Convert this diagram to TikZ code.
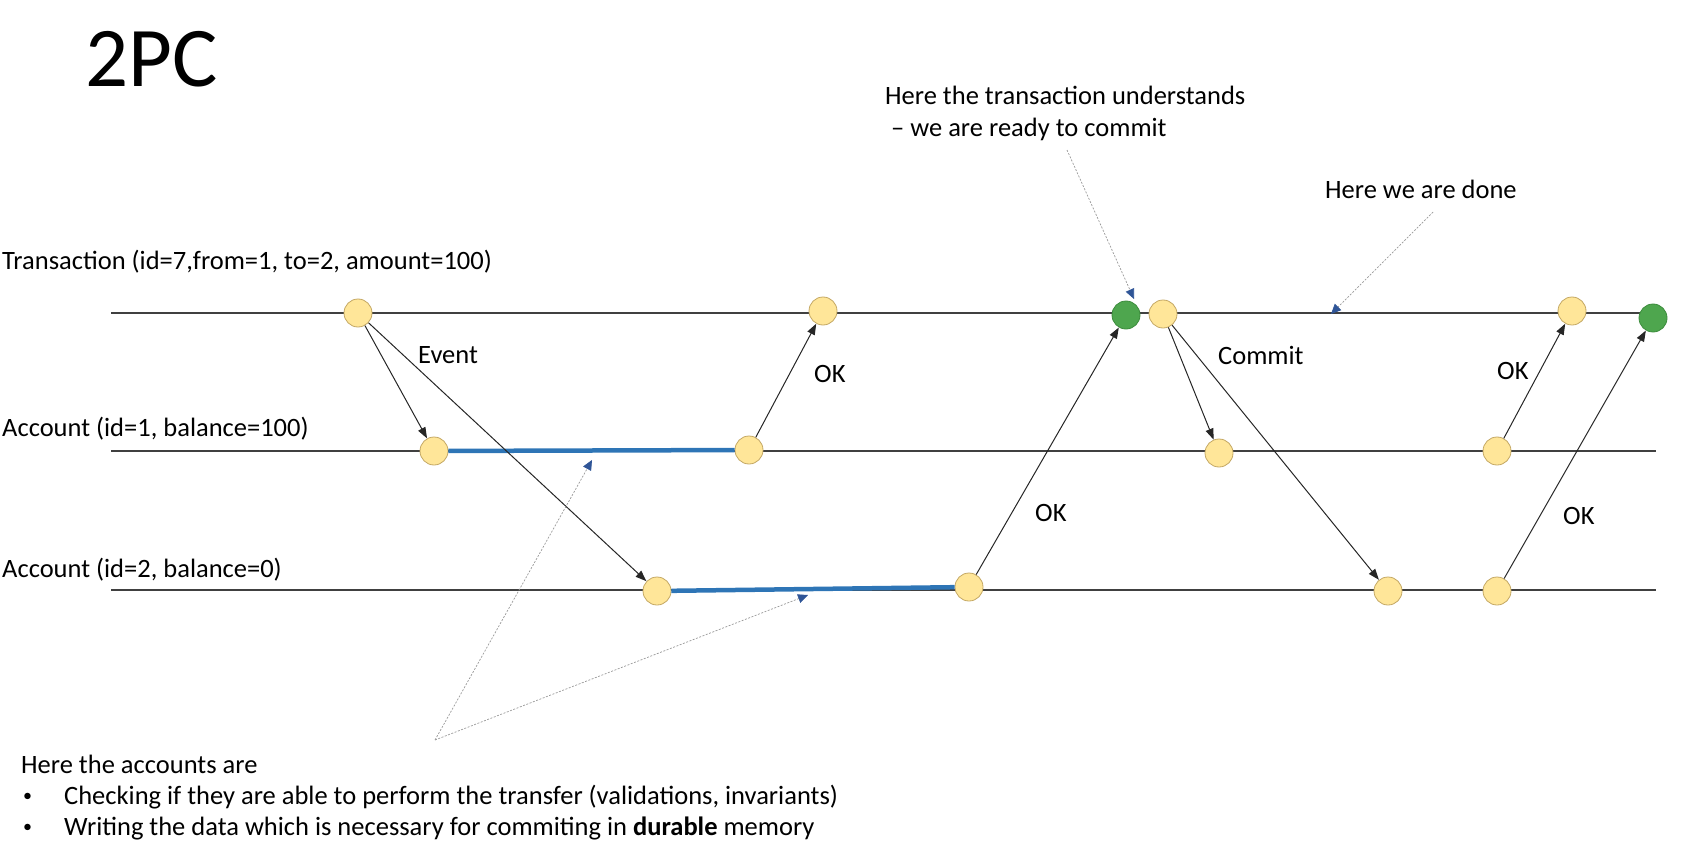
\documentclass[tikz,border=0pt]{standalone}
\usepackage{fontspec}
\setmainfont{Carlito}
\usetikzlibrary{arrows.meta,positioning}

\definecolor{evfill}{RGB}{255,230,153}
\definecolor{evline}{RGB}{196,168,100}
\definecolor{okfill}{RGB}{78,166,78}
\definecolor{okline}{RGB}{60,140,60}
\definecolor{holdblue}{RGB}{46,117,182}
\definecolor{notetip}{RGB}{47,85,151}

\tikzset{
  timeline/.style={draw=black!75, line width=2.2pt},
  evt/.style={circle, fill=evfill, draw=evline, line width=0.8pt, minimum size=28pt, inner sep=0pt},
  done/.style={circle, fill=okfill, draw=okline, line width=0.8pt, minimum size=28pt, inner sep=0pt},
  msg/.style={draw=black!85, line width=1pt, -{Triangle[length=11pt,width=8pt]}},
  hold/.style={draw=holdblue, line width=4.5pt},
  note/.style={draw=black!40, line width=0.7pt, dash pattern=on 2pt off 1.5pt, -{Triangle[length=10pt,width=9pt,color=notetip]}},
  txt/.style={font=\fontsize{26.5}{32}\selectfont, inner sep=0pt, anchor=west},
}

\begin{document}
\begin{tikzpicture}[x=1pt,y=-1pt]
    \useasboundingbox (0,0) rectangle (1685,850);
    \node[font=\fontsize{85}{90}\selectfont, inner sep=0pt, anchor=base west] (title) at (85,87) {2PC};

    % process labels
    \node[txt] (tname) at (2,262) {Transaction (id=7,from=1, to=2, amount=100)};
    \node[txt] (aname) at (2,429) {Account (id=1, balance=100)};
    \node[txt] (bname) at (2,570) {Account (id=2, balance=0)};

    % time lines
    \coordinate (ts) at (111,313);
    \coordinate (te) at (1656,313);
    \coordinate (as) at (111,451);
    \coordinate (ae) at (1656,451);
    \coordinate (bs) at (111,590);
    \coordinate (be) at (1656,590);
    \draw[timeline] (ts) -- (te);
    \draw[timeline] (as) -- (ae);
    \draw[timeline] (bs) -- (be);

    % events on the transaction
    \node[evt] (t1) at (358,313) {};
    \node[evt] (t2) at (823,311) {};
    \node[done] (t3) at (1126,315) {};
    \node[evt] (t4) at (1163,314) {};
    \node[evt] (t5) at (1572,311) {};
    \node[done] (t6) at (1653,318) {};

    % events on account 1
    \node[evt] (a1) at (434,451) {};
    \node[evt] (a2) at (749,450) {};
    \node[evt] (a3) at (1219,453) {};
    \node[evt] (a4) at (1497,451) {};

    % events on account 2
    \node[evt] (b1) at (657,591) {};
    \node[evt] (b2) at (969,587) {};
    \node[evt] (b3) at (1388,591) {};
    \node[evt] (b4) at (1497,591) {};

    % prepared state
    \draw[hold] (a1) -- (a2);
    \draw[hold] (b1) -- (b2);

    % messages
    \draw[msg] (t1) -- (a1);
    \draw[msg] (t1) -- (b1);
    \draw[msg] (a2) -- (t2);
    \draw[msg] (b2) -- (t3);
    \draw[msg] (t4) -- (a3);
    \draw[msg] (t4) -- (b3);
    \draw[msg] (a4) -- (t5);
    \draw[msg] (b4) -- (t6);

    \node[txt] (event) at (418,355) {Event};
    \node[txt] (ok1) at (814,374) {OK};
    \node[txt] (ok2) at (1035,513) {OK};
    \node[txt] (commit) at (1218,355) {Commit};
    \node[txt] (ok3) at (1497,371) {OK};
    \node[txt] (ok4) at (1563,516) {OK};

    % notes
    \node[txt, align=left] (ready) at (885,113) {Here the transaction understands\\\ – we are ready to commit};
    \coordinate (readyfrom) at (1067,150);
    \coordinate (readyto) at (1134,299);
    \draw[note] (readyfrom) -- (readyto);

    \node[txt] (fin) at (1325,189) {Here we are done};
    \coordinate (finfrom) at (1433,212);
    \coordinate (finto) at (1331,314);
    \draw[note] (finfrom) -- (finto);

    \coordinate (apex) at (435,740);
    \coordinate (holda) at (592,460);
    \coordinate (holdb) at (808,595);
    \draw[note] (apex) -- (holda);
    \draw[note] (apex) -- (holdb);

    \node[txt] (acc) at (21,764) {Here the accounts are};
    \node[txt, font=\fontsize{18}{20}\selectfont] (dot1) at (23,797) {•};
    \node[txt] (chk) at (64,797) {Checking if they are able to perform the transfer (validations, invariants)};
    \node[txt, font=\fontsize{18}{20}\selectfont] (dot2) at (23,828) {•};
    \node[txt] (wrt) at (64,828) {Writing the data which is necessary for commiting in \textbf{durable} memory};
\end{tikzpicture}
\end{document}
